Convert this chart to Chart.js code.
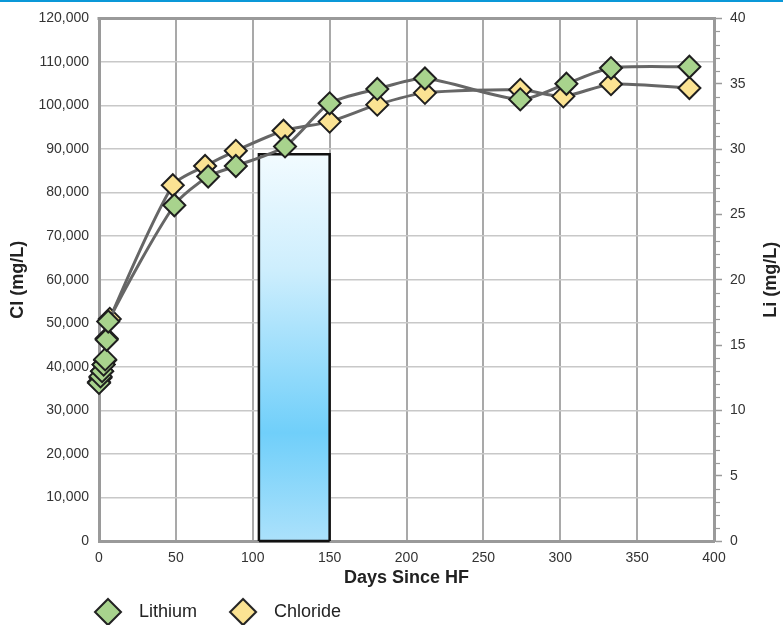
<!DOCTYPE html>
<html>
<head>
<meta charset="utf-8">
<title>Cl and Li since HF</title>
<script src="https://cdn.jsdelivr.net/npm/chart.js@4.4.1/dist/chart.umd.min.js"></script>
<style>
  html, body { margin: 0; padding: 0; background: #ffffff; }
  #wrap { position: relative; width: 783px; height: 625px; overflow: hidden; }
  #topline { position: absolute; left: 0; top: 0; width: 783px; height: 2px; background: #0a98d8; }
  canvas { display: block; }
</style>
</head>
<body>
<div id="wrap">
  <canvas id="chart" width="783" height="625"></canvas>
  <div id="topline"></div>
</div>
<script>
// Sampling days and concentrations (mg/L)
const lithiumDays  = [0, 1, 2, 3, 4, 5, 6, 49, 71, 89, 121, 150, 181, 212, 274, 304, 333, 384];
const lithiumMgL   = [12.1, 12.6, 13.0, 13.5, 13.9, 15.4, 16.8, 25.7, 27.9, 28.7, 30.2, 33.5, 34.6, 35.4, 33.8, 35.0, 36.2, 36.3];
const chlorideDays = [0, 1, 2, 3, 4, 5, 7, 48, 69, 89, 120, 150, 181, 212, 274, 302, 333, 384];
const chlorideMgL  = [36500, 37500, 39000, 40500, 41500, 46500, 51000, 81700, 86100, 89600, 94200, 96300, 100200, 102900, 103600, 102100, 104900, 104000];

// Shaded interval (days) and its height on the Cl axis
const shadedDays = [104, 150];
const shadedCl   = 88800;

// Axis ticks
const dayTicks = [0, 50, 100, 150, 200, 250, 300, 350, 400];
const clTicks  = [0, 10000, 20000, 30000, 40000, 50000, 60000, 70000, 80000, 90000, 100000, 110000, 120000];
const liTicks  = [0, 5, 10, 15, 20, 25, 30, 35, 40];

const seriesNames = ['Lithium', 'Chloride'];
const axisTitles = { x: 'Days Since HF', left: 'Cl (mg/L)', right: 'Li (mg/L)' };

const GREEN = '#a8d38d';
const YELLOW = '#fbe393';
const FONT = "'Liberation Sans', Arial, Helvetica, sans-serif";

Chart.defaults.font.family = FONT;
Chart.defaults.font.size = 14;
Chart.defaults.color = '#333333';

const toXY = (xs, ys) => xs.map((x, i) => ({ x, y: ys[i] }));

// outline of the shaded interval: left side, top, right side
const shadedOutline = [
  { x: shadedDays[0], y: 0 },
  { x: shadedDays[0], y: shadedCl },
  { x: shadedDays[1], y: shadedCl },
  { x: shadedDays[1], y: 0 }
];
// its bottom edge
const shadedBase = [
  { x: shadedDays[0], y: 0 },
  { x: shadedDays[1], y: 0 }
];

// Diamond swatch used as the legend marker
function legendDiamond(fill) {
  const c = document.createElement('canvas');
  c.width = 58; c.height = 32;
  const g = c.getContext('2d');
  const cx = 36, cy = 16, r = 13;
  g.beginPath();
  g.moveTo(cx, cy - r); g.lineTo(cx + r, cy); g.lineTo(cx, cy + r); g.lineTo(cx - r, cy);
  g.closePath();
  g.fillStyle = fill; g.fill();
  g.lineWidth = 2; g.strokeStyle = '#222222'; g.lineJoin = 'miter'; g.stroke();
  return c;
}

function setTicks(values) {
  return scale => { scale.ticks = values.map(v => ({ value: v })); };
}

const frameAndTitles = {
  id: 'frameAndTitles',
  beforeDraw(chart) {
    // legend row starts under the plot, not at the canvas edge
    if (chart.legend) {
      chart.legend.left = 62;
      chart.legend.right = chart.width;
    }
  },
  beforeDatasetsDraw(chart) {
    const { ctx, chartArea: a } = chart;
    ctx.save();
    // top edge of the plot frame
    ctx.strokeStyle = '#9a9a9a';
    ctx.lineWidth = 3;
    ctx.beginPath();
    ctx.moveTo(a.left - 1.5, a.top);
    ctx.lineTo(a.right + 1.5, a.top);
    ctx.stroke();
    // minor ticks on the Li axis
    const y1 = chart.scales.y1;
    ctx.lineWidth = 1.2;
    for (let v = y1.min; v <= y1.max; v += 1) {
      if (v % 5 === 0) continue;
      const py = Math.round(y1.getPixelForValue(v)) + 0.5;
      ctx.beginPath();
      ctx.moveTo(a.right, py);
      ctx.lineTo(a.right + 6, py);
      ctx.stroke();
    }
    ctx.restore();
  },
  afterDraw(chart) {
    const { ctx, chartArea: a } = chart;
    const cy = (a.top + a.bottom) / 2;
    ctx.save();
    ctx.font = 'bold 18px ' + FONT;
    ctx.fillStyle = '#222222';
    ctx.textAlign = 'center';
    ctx.textBaseline = 'middle';
    [[18, axisTitles.left], [771, axisTitles.right]].forEach(([x, t]) => {
      ctx.save();
      ctx.translate(x, cy);
      ctx.rotate(-Math.PI / 2);
      ctx.fillText(t, 0, 0);
      ctx.restore();
    });
    ctx.restore();
  }
};

const seriesStyle = {
  borderColor: '#666666',
  borderWidth: 3,
  pointStyle: 'rectRot',
  pointRadius: 11,
  pointHoverRadius: 11,
  pointBorderColor: '#1f1f1f',
  pointBorderWidth: 2,
  tension: 0.25,
  fill: false,
  clip: false
};

new Chart(document.getElementById('chart'), {
  type: 'line',
  data: {
    datasets: [
      Object.assign({
        label: seriesNames[0],
        data: toXY(lithiumDays, lithiumMgL),
        yAxisID: 'y1',
        order: 0,
        backgroundColor: GREEN,
        pointBackgroundColor: GREEN
      }, seriesStyle),
      Object.assign({
        label: seriesNames[1],
        data: toXY(chlorideDays, chlorideMgL),
        yAxisID: 'y',
        order: 1,
        backgroundColor: YELLOW,
        pointBackgroundColor: YELLOW
      }, seriesStyle),
      {
        label: 'shaded',
        data: shadedOutline,
        yAxisID: 'y',
        order: 10,
        tension: 0,
        pointRadius: 0,
        pointHoverRadius: 0,
        borderColor: '#111111',
        borderWidth: 2.5,
        borderJoinStyle: 'miter',
        fill: 'origin',
        backgroundColor: (context) => {
          const chart = context.chart;
          const a = chart.chartArea;
          if (!a) return 'rgba(0,0,0,0)';
          const top = chart.scales.y.getPixelForValue(shadedCl);
          const g = chart.ctx.createLinearGradient(0, top, 0, a.bottom);
          g.addColorStop(0, '#f2fbff');
          g.addColorStop(0.3, '#cdeefd');
          g.addColorStop(0.72, '#70cffa');
          g.addColorStop(1, '#abe1fb');
          return g;
        }
      },
      {
        label: 'shaded base',
        data: shadedBase,
        yAxisID: 'y',
        order: 9,
        tension: 0,
        pointRadius: 0,
        pointHoverRadius: 0,
        borderColor: '#111111',
        borderWidth: 2.5,
        fill: false,
        clip: false
      }
    ]
  },
  options: {
    responsive: false,
    animation: false,
    devicePixelRatio: 1,
    events: [],
    layout: { autoPadding: false, padding: { top: 13, left: 0, right: 0, bottom: 0 } },
    scales: {
      x: {
        type: 'linear',
        min: 0, max: 400,
        afterBuildTicks: setTicks(dayTicks),
        afterFit(scale) { scale.height = 52; },
        grid: { color: '#a9a9a9', lineWidth: 2, drawTicks: false },
        border: { display: true, color: '#9a9a9a', width: 3 },
        ticks: { padding: 9, color: '#333333', font: { size: 14 } },
        title: {
          display: true,
          text: axisTitles.x,
          color: '#222222',
          font: { size: 18, weight: 'bold' },
          padding: { top: 0, bottom: 4 }
        }
      },
      y: {
        type: 'linear',
        position: 'left',
        min: 0, max: 120000,
        afterBuildTicks: setTicks(clTicks),
        afterFit(scale) { scale.width = 99; },
        grid: { color: '#c8c8c8', lineWidth: 1.5, drawTicks: false },
        border: { display: true, color: '#9a9a9a', width: 3 },
        ticks: {
          padding: 10,
          color: '#333333',
          font: { size: 14 },
          callback: v => v.toLocaleString('en-US')
        }
      },
      y1: {
        type: 'linear',
        position: 'right',
        min: 0, max: 40,
        afterBuildTicks: setTicks(liTicks),
        afterFit(scale) { scale.width = 69; },
        grid: { drawOnChartArea: false, drawTicks: true, tickLength: 8, tickColor: '#9a9a9a', tickWidth: 1.5 },
        border: { display: true, color: '#9a9a9a', width: 3 },
        ticks: { padding: 8, color: '#333333', font: { size: 14 } }
      }
    },
    plugins: {
      tooltip: { enabled: false },
      legend: {
        display: true,
        position: 'bottom',
        align: 'start',
        maxHeight: 32,
        labels: {
          usePointStyle: true,
          pointStyleWidth: 58,
          padding: 10,
          color: '#222222',
          font: { size: 18 },
          generateLabels(chart) {
            return [0, 1].map(i => {
              const ds = chart.data.datasets[i];
              return {
                text: ds.label,
                pointStyle: legendDiamond(ds.pointBackgroundColor),
                fillStyle: ds.pointBackgroundColor,
                strokeStyle: '#222222',
                lineWidth: 2,
                hidden: false,
                datasetIndex: i,
                fontColor: '#222222'
              };
            });
          }
        }
      }
    }
  },
  plugins: [frameAndTitles]
});
</script>
</body>
</html>
